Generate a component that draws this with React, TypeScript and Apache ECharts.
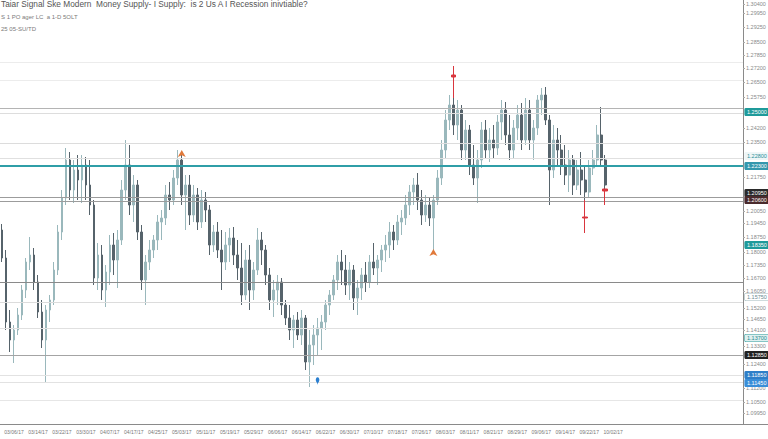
import React, { useEffect, useRef } from "react";
import * as echarts from "echarts";

const TITLE = "Taiar Signal Ske Modern  Money Supply- I Supply:  is 2 Us A I Recession inivtiable?";
const SUB1 = "S 1 PO ager LC  a 1-D 5OLT";
const SUB2 = "25 05-SU/TD";

const openV = [
  222, 194, 130, 112, 122, 137, 162, 190, 197, 170,
  140, 112, 142, 152, 182, 220, 254, 292, 262, 282,
  272, 287, 267, 247, 174, 197, 162, 180, 207, 192,
  212, 262, 287, 247, 267, 220, 172, 190, 202, 212,
  230, 234, 257, 252, 274, 292, 257, 267, 237, 257,
  230, 252, 242, 207, 220, 202, 190, 207, 214, 197,
  184, 157, 192, 162, 182, 212, 202, 177, 152, 162,
  170, 147, 134, 122, 132, 117, 134, 90, 107, 117,
  124, 130, 147, 157, 172, 190, 182, 167, 182, 154,
  164, 177, 170, 190, 184, 192, 202, 207, 220, 212,
  230, 234, 247, 260, 267, 252, 237, 247, 234, 252,
  274, 302, 332, 347, 327, 342, 302, 322, 287, 274,
  292, 322, 302, 312, 304, 330, 342, 317, 302, 324,
  337, 312, 342, 312, 324, 352, 357, 332, 282, 312,
  302, 287, 277, 292, 267, 282, 272, 260, 284, 292,
  317, 292,
];
const closeV = [
  194, 130, 112, 122, 137, 162, 190, 197, 170, 140,
  112, 142, 152, 182, 220, 254, 292, 262, 282, 272,
  287, 267, 247, 174, 197, 162, 180, 207, 192, 212,
  262, 287, 247, 267, 220, 172, 190, 202, 212, 230,
  234, 257, 252, 274, 292, 257, 267, 237, 257, 230,
  252, 242, 207, 220, 202, 190, 207, 214, 197, 184,
  157, 192, 162, 182, 212, 202, 177, 152, 162, 170,
  147, 134, 122, 132, 117, 134, 90, 107, 117, 124,
  130, 147, 157, 172, 190, 182, 167, 182, 154, 164,
  177, 170, 190, 184, 192, 202, 207, 220, 212, 230,
  234, 247, 260, 267, 252, 237, 247, 234, 252, 274,
  302, 332, 347, 327, 342, 302, 322, 287, 274, 292,
  322, 302, 312, 304, 330, 342, 317, 302, 324, 337,
  312, 342, 312, 324, 352, 357, 332, 282, 312, 302,
  287, 277, 292, 267, 282, 272, 260, 284, 292, 317,
  292, 267,
];
const lowV = [
  190, 122, 100, 89, 117, 132, 154, 182, 162, 134,
  104, 69, 130, 147, 177, 212, 247, 252, 249, 252,
  249, 252, 237, 167, 162, 152, 145, 167, 177, 164,
  207, 252, 237, 230, 212, 162, 147, 182, 194, 202,
  212, 227, 242, 247, 267, 247, 222, 227, 230, 222,
  224, 230, 197, 200, 194, 162, 182, 190, 187, 172,
  147, 152, 142, 152, 177, 187, 167, 142, 135, 147,
  137, 127, 112, 104, 112, 107, 82, 65, 87, 97,
  102, 122, 137, 152, 162, 167, 157, 152, 142, 137,
  152, 160, 164, 177, 167, 180, 190, 194, 202, 207,
  217, 227, 237, 247, 242, 227, 230, 226, 200, 247,
  267, 294, 322, 317, 312, 292, 292, 277, 267, 249,
  284, 294, 290, 294, 297, 312, 307, 292, 294, 312,
  302, 307, 302, 292, 317, 337, 327, 247, 274, 287,
  277, 267, 260, 257, 262, 257, 252, 254, 277, 287,
  287, 260,
];
const highV = [
  228, 202, 142, 127, 144, 167, 194, 215, 204, 177,
  152, 147, 157, 190, 227, 262, 304, 300, 292, 297,
  297, 295, 292, 252, 209, 207, 187, 217, 219, 222,
  272, 312, 307, 277, 272, 227, 197, 212, 217, 237,
  242, 267, 270, 282, 302, 297, 277, 277, 267, 264,
  262, 260, 247, 227, 230, 222, 220, 224, 225, 212,
  209, 202, 207, 190, 224, 220, 207, 184, 172, 177,
  174, 152, 147, 137, 140, 142, 137, 122, 127, 134,
  137, 152, 162, 177, 197, 202, 197, 190, 187, 172,
  184, 190, 197, 209, 197, 207, 217, 230, 227, 237,
  242, 257, 267, 274, 279, 262, 257, 254, 257, 282,
  312, 342, 357, 355, 352, 347, 332, 327, 307, 302,
  330, 332, 324, 327, 337, 352, 350, 337, 332, 347,
  349, 354, 352, 332, 357, 364, 365, 337, 327, 324,
  317, 307, 302, 297, 292, 300, 287, 292, 302, 327,
  345, 297,
];

// red signal candles
const redIdx = [113, 146, 151];
const redOpen = [377, 235, 263];
const redClose = [375, 234, 261];
const redLow = [354, 219, 247];
const redHigh = [386, 252, 263];

// markers: [index, value]
const orangeIdx = [45, 108];
const orangeVal = [302, 203];
const blueIdx = [79];
const blueVal = [67];

// horizontal levels
const lineLevels = [390, 372, 344, 339, 309, 294, 286, 255, 251, 170, 150, 124, 97, 77, 70, 52];
const lineStyles = [
  { color: "#ececec", width: 1 },
  { color: "#ececec", width: 1 },
  { color: "#b4b4b4", width: 1 },
  { color: "#dddddd", width: 1 },
  { color: "#dcdcdc", width: 1 },
  { color: "#e0e0e0", width: 1 },
  { color: "#2f9ea7", width: 2 },
  { color: "#9c9c9c", width: 1 },
  { color: "#9c9c9c", width: 1 },
  { color: "#8a8a8a", width: 1 },
  { color: "#dcdcdc", width: 1 },
  { color: "#e0e0e0", width: 1 },
  { color: "#a4a4a4", width: 1 },
  { color: "#e2e2e2", width: 1 },
  { color: "#e2e2e2", width: 1 },
  { color: "#e6e6e6", width: 1 },
];

// price tags on the right axis
const tagLevels = [340, 296, 286, 259, 252, 207, 155, 114, 97, 77, 69];
const tagStyles = [
  { bg: "#1f9a9a", fg: "#ffffff", border: "#1f9a9a" },
  { bg: "#eef6f7", fg: "#2a8f9a", border: "#eef6f7" },
  { bg: "#3497ad", fg: "#ffffff", border: "#3497ad" },
  { bg: "#2a2a2a", fg: "#ffffff", border: "#2a2a2a" },
  { bg: "#4a2a2c", fg: "#ffffff", border: "#4a2a2c" },
  { bg: "#1f9a9a", fg: "#ffffff", border: "#1f9a9a" },
  { bg: "#ffffff", fg: "#6c8a90", border: "#9fb6ba" },
  { bg: "#dff0f0", fg: "#1f8a8f", border: "#2a9a9a" },
  { bg: "#222222", fg: "#ffffff", border: "#222222" },
  { bg: "#2f7fc8", fg: "#ffffff", border: "#2f7fc8" },
  { bg: "#3a8ed8", fg: "#ffffff", border: "#3a8ed8" },
];

const yTicks = [448, 439, 425, 410, 397, 384, 370, 355, 324, 310, 275, 241, 229, 215, 200, 187, 174, 161, 144, 133, 122, 106, 88, 64, 50, 39];

const TOTAL_CATS = 186;
const LABEL_FIRST = 3;
const LABEL_LAST = 156;

function buildCategories(): string[] {
  const out: string[] = [];
  const d = new Date(Date.UTC(2017, 2, 1));
  while (out.length < TOTAL_CATS) {
    const wd = d.getUTCDay();
    if (wd !== 0 && wd !== 6) {
      const mm = String(d.getUTCMonth() + 1).padStart(2, "0");
      const dd = String(d.getUTCDate()).padStart(2, "0");
      const yy = String(d.getUTCFullYear()).slice(2);
      out.push(`${mm}/${dd}/${yy}`);
    }
    d.setUTCDate(d.getUTCDate() + 1);
  }
  return out;
}

const fmt = (v: number) => (1.08 + v / 2000).toFixed(5);

export default function App() {
  const ref = useRef<HTMLDivElement>(null);
  useEffect(() => {
    const chart = echarts.init(ref.current!, null, { renderer: "svg" });
    const categories = buildCategories();
    const candles = openV.map((o, i) => [o, closeV[i], lowV[i], highV[i]]);
    const redData: any[] = categories.map(() => "-");
    redIdx.forEach((idx, k) => {
      redData[idx] = [redOpen[k], redClose[k], redLow[k], redHigh[k]];
    });

    const lineData = lineLevels.map((lv, k) => ({
      yAxis: lv,
      lineStyle: { color: lineStyles[k].color, width: lineStyles[k].width, type: "solid" },
      label: { show: false },
    }));
    const tagData = tagLevels.map((lv, k) => ({
      yAxis: lv,
      lineStyle: { color: "rgba(0,0,0,0)", width: 1 },
      label: {
        show: true,
        position: "end",
        distance: 2,
        formatter: () => fmt(lv),
        fontSize: 5.5,
        fontFamily: "Liberation Sans",
        color: tagStyles[k].fg,
        backgroundColor: tagStyles[k].bg,
        borderColor: tagStyles[k].border,
        borderWidth: 0.6,
        borderRadius: 1,
        padding: [1, 2, 0, 2],
        opacity: 1,
      },
    }));

    const markPts = [
      ...orangeIdx.map((idx, k) => ({
        coord: [categories[idx], orangeVal[k]],
        symbol: "arrow",
        symbolSize: [6, 7],
        itemStyle: { color: "#e0793a" },
        label: { show: false },
      })),
      ...blueIdx.map((idx, k) => ({
        coord: [categories[idx], blueVal[k]],
        symbol: "pin",
        symbolSize: [6, 9],
        itemStyle: { color: "#2a7fd0" },
        label: { show: false },
      })),
    ];

    chart.setOption({
      animation: false,
      backgroundColor: "#ffffff",
      textStyle: { fontFamily: "Liberation Sans" },
      grid: { left: 0, right: 25, top: 0, bottom: 15, containLabel: false, outerBoundsMode: "none" },
      xAxis: {
        type: "category",
        data: categories,
        boundaryGap: true,
        axisLine: { show: true, lineStyle: { color: "#8a8a8a", width: 1 } },
        axisTick: { show: false },
        axisLabel: {
          interval: (i: number) => i >= LABEL_FIRST && i <= LABEL_LAST && (i - LABEL_FIRST) % 6 === 0,
          fontSize: 5,
          color: "#777",
          margin: 5,
        },
        splitLine: { show: false },
      },
      yAxis: {
        type: "value",
        position: "right",
        min: 28,
        max: 452,
        axisLine: { show: true, lineStyle: { color: "#8a8a8a" } },
        axisTick: { show: true, length: 2, customValues: yTicks, lineStyle: { color: "#aaa" } },
        axisLabel: { customValues: yTicks, fontSize: 5.5, color: "#8a8a8a", margin: 3, formatter: fmt },
        splitLine: { show: false },
      },
      series: [
        {
          type: "candlestick",
          name: "price",
          data: candles,
          barWidth: 2.2,
          itemStyle: {
            color: "#9ab8bc",
            color0: "#56636b",
            borderColor: "#9ab8bc",
            borderColor0: "#56636b",
            borderWidth: 1,
          },
          markLine: {
            symbol: "none",
            silent: true,
            animation: false,
            data: [...lineData, ...tagData],
          },
          markPoint: { silent: true, animation: false, data: markPts },
        },
        {
          type: "candlestick",
          name: "signal",
          data: redData,
          barWidth: 5,
          z: 5,
          itemStyle: {
            color: "#d9363e",
            color0: "#d9363e",
            borderColor: "#d9363e",
            borderColor0: "#d9363e",
            borderWidth: 1,
          },
        },
      ],
      graphic: [
        { type: "text", left: 1, top: 0, style: { text: TITLE, fontSize: 8.3, fontFamily: "Liberation Sans", fill: "#555" } },
        { type: "text", left: 1, top: 14, style: { text: SUB1, fontSize: 6, fontFamily: "Liberation Sans", fill: "#7a7a7a" } },
        { type: "text", left: 1, top: 26, style: { text: SUB2, fontSize: 6, fontFamily: "Liberation Sans", fill: "#7a7a7a" } },
        { type: "line", shape: { x1: 743, y1: 424.5, x2: 768, y2: 424.5 }, style: { stroke: "#8a8a8a", lineWidth: 1 } },
      ],
    });
    return () => chart.dispose();
  }, []);
  return (
    <div
      ref={ref}
      style={{ position: "fixed", left: 0, top: 0, width: 768, height: 439, background: "#fff" }}
    />
  );
}
